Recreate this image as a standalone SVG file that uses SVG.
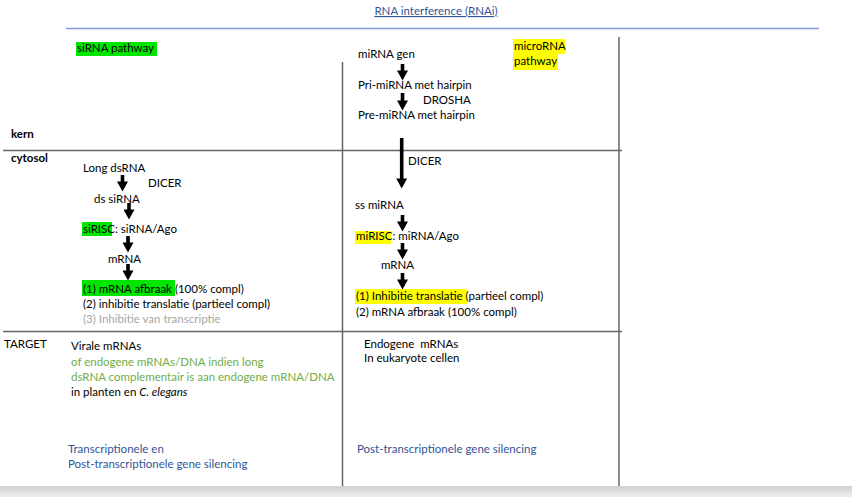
<svg xmlns="http://www.w3.org/2000/svg" width="852" height="497" viewBox="0 0 852 497">
<style>
text{font-family:Lato,"Liberation Sans",sans-serif;font-size:11.5px;fill:#000}
.b{font-weight:bold}
.grn{fill:#70ad47}
.blu{fill:#2f5597}
.gry{fill:#a6a6a6}
.rule{stroke:#666;stroke-width:1.5;fill:none}
.arr{stroke:#000;stroke-width:3.6;marker-end:url(#ah)}
.hg{fill:#00e600}
.hy{fill:#ffff00}
</style>
<defs>
<marker id="ah" markerUnits="userSpaceOnUse" markerWidth="11" markerHeight="11" viewBox="0 0 10 11" refX="0.5" refY="5.5" orient="auto">
<path d="M0,0 L10,5.5 L0,11 z" fill="#000"/>
</marker>
<linearGradient id="band" x1="0" y1="0" x2="0" y2="1">
<stop offset="0" stop-color="#d3cfcf"/>
<stop offset="1" stop-color="#efeeee"/>
</linearGradient>
</defs>
<rect width="852" height="497" fill="#fff"/>
<rect x="0" y="486" width="852" height="11" fill="url(#band)"/>

<g id="frame">
<line x1="66" y1="28.5" x2="819" y2="28.5" stroke="#7f9ee0" stroke-width="1.5"/>
<line class="rule" x1="342.5" y1="62" x2="342.5" y2="486"/>
<line class="rule" x1="619" y1="37" x2="619" y2="486"/>
<line class="rule" x1="3" y1="150.5" x2="622" y2="150.5"/>
<line class="rule" x1="3" y1="331.5" x2="622" y2="331.5"/>
</g>

<g id="title"><text x="436" y="15" text-anchor="middle" class="blu" text-decoration="underline">RNA interference (RNAi)</text></g>

<g id="labels">
<text x="11" y="138" class="b">kern</text>
<text x="11" y="162" class="b">cytosol</text>
<text x="4" y="348">TARGET</text>
</g>

<g id="sirna-pathway"><rect class="hg" x="76" y="42" width="81" height="14"/><text x="77" y="52">siRNA pathway</text></g>
<g id="microrna-pathway"><rect class="hy" x="513" y="39" width="52" height="15"/><rect class="hy" x="513" y="54" width="45" height="16"/><text x="514" y="50">microRNA</text><text x="514" y="65">pathway</text></g>

<g id="mirna-gen"><text x="358" y="58">miRNA gen</text></g>
<g id="pri-mirna"><text x="358" y="89">Pri-miRNA met hairpin</text></g>
<g id="drosha"><text x="423" y="104">DROSHA</text></g>
<g id="pre-mirna"><text x="358" y="119">Pre-miRNA met hairpin</text></g>
<g id="dicer-r"><text x="408" y="165">DICER</text></g>
<g id="ss-mirna"><text x="355" y="209">ss miRNA</text></g>
<g id="mirisc"><rect class="hy" x="355" y="231" width="36" height="13"/><text x="356" y="240">miRISC: miRNA/Ago</text></g>
<g id="mrna-r"><text x="381" y="269">mRNA</text></g>
<g id="outcome-r"><rect class="hy" x="355" y="289" width="112" height="15"/><text x="356" y="300">(1) Inhibitie translatie (partieel compl)</text><text x="356" y="316">(2) mRNA afbraak (100% compl)</text></g>

<g id="long-dsrna"><text x="83" y="172">Long dsRNA</text></g>
<g id="dicer-l"><text x="148" y="187">DICER</text></g>
<g id="ds-sirna"><text x="94" y="203">ds siRNA</text></g>
<g id="sirisc"><rect class="hg" x="82" y="222" width="30" height="14"/><text x="83" y="233">siRISC: siRNA/Ago</text></g>
<g id="mrna-l"><text x="108" y="263">mRNA</text></g>
<g id="outcome-l"><rect class="hg" x="82" y="280" width="93" height="16"/><text x="83" y="293">(1) mRNA afbraak (100% compl)</text><text x="83" y="308">(2) inhibitie translatie (partieel compl)</text><text x="83" y="323" class="gry">(3) Inhibitie van transcriptie</text></g>

<g id="target-si">
<text x="71" y="350">Virale mRNAs</text>
<text x="71" y="366" class="grn">of endogene mRNAs/DNA indien long</text>
<text x="71" y="381" class="grn">dsRNA complementair is aan endogene mRNA/DNA</text>
<text x="71" y="396">in planten en <tspan font-style="italic">C. elegans</tspan></text>
</g>
<g id="silencing-si"><text x="68" y="453" class="blu">Transcriptionele en</text><text x="68" y="468" class="blu">Post-transcriptionele gene silencing</text></g>
<g id="target-mi"><text x="364" y="348">Endogene&#160; mRNAs</text><text x="364" y="362">In eukaryote cellen</text></g>
<g id="silencing-mi"><text x="357" y="453" class="blu">Post-transcriptionele gene silencing</text></g>

<g id="connectors">
<line class="arr" x1="402.5" y1="64" x2="402.5" y2="71"/>
<line class="arr" x1="402.5" y1="93" x2="402.5" y2="101"/>
<line class="arr" x1="401.7" y1="138" x2="401.7" y2="179"/>
<line class="arr" x1="402.5" y1="215" x2="402.5" y2="222"/>
<line class="arr" x1="402.5" y1="243" x2="402.5" y2="250"/>
<line class="arr" x1="402.5" y1="273" x2="402.5" y2="280"/>
<line class="arr" x1="122.5" y1="175" x2="122.5" y2="182"/>
<line class="arr" x1="129" y1="203" x2="129" y2="210"/>
<line class="arr" x1="128" y1="236" x2="128" y2="243"/>
<line class="arr" x1="128" y1="264" x2="128" y2="271"/>
</g>
</svg>
